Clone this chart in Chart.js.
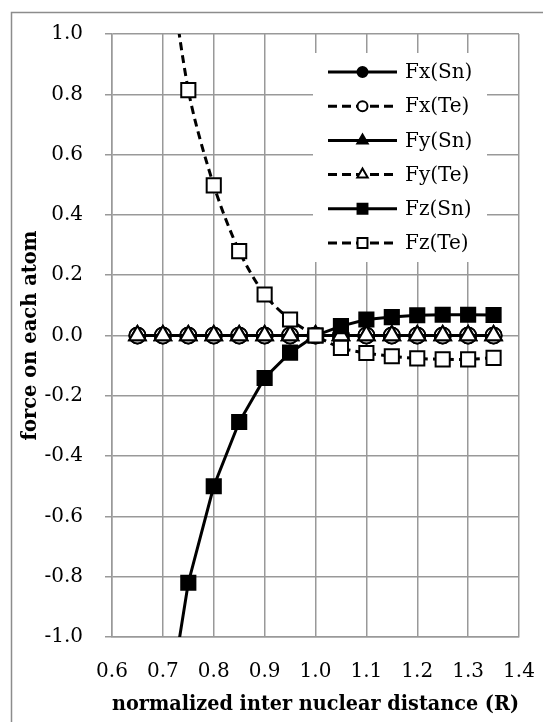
<!DOCTYPE html>
<html>
<head>
<meta charset="utf-8">
<script src="https://cdn.jsdelivr.net/npm/chart.js@4"></script>
<style>
  html, body { margin: 0; padding: 0; background: #fff; }
  #wrap { width: 543px; height: 722px; position: relative; }
</style>
</head>
<body>
<div id="wrap"><canvas id="chart"></canvas></div>
<script>
// distances (R)
const xAll = [0.65, 0.70, 0.75, 0.80, 0.85, 0.90, 0.95, 1.00, 1.05, 1.10, 1.15, 1.20, 1.25, 1.30, 1.35];
const fxSn = [0, 0, 0, 0, 0, 0, 0, 0, 0, 0, 0, 0, 0, 0, 0];
const fxTe = [0, 0, 0, 0, 0, 0, 0, 0, 0, 0, 0, 0, 0, 0, 0];
const fySn = [0, 0, 0, 0, 0, 0, 0, 0, 0, 0, 0, 0, 0, 0, 0];
const fyTe = [0, 0, 0, 0, 0, 0, 0, 0, 0, 0, 0, 0, 0, 0, 0];
// Fz only visible from 0.70 on
const xFz = [0.70, 0.75, 0.80, 0.85, 0.90, 0.95, 1.00, 1.05, 1.10, 1.15, 1.20, 1.25, 1.30, 1.35];
const fzSn = [-1.35, -0.82, -0.50, -0.287, -0.141, -0.057, 0.0, 0.031, 0.053, 0.061, 0.067, 0.069, 0.069, 0.068];
const fzTe = [1.40, 0.814, 0.498, 0.28, 0.136, 0.053, 0.0, -0.041, -0.058, -0.069, -0.076, -0.079, -0.079, -0.074];

const xTicks = [0.6, 0.7, 0.8, 0.9, 1.0, 1.1, 1.2, 1.3, 1.4];
const yTicks = [-1.0, -0.8, -0.6, -0.4, -0.2, 0.0, 0.2, 0.4, 0.6, 0.8, 1.0];

const FONT = "'DejaVu Serif', serif";
const GRID = "#999999";

function pts(xs, ys) {
  return xs.map((x, i) => ({ x: x, y: ys[i] }));
}

// solid = Sn, dashed = Te
function series(label, xs, ys, style, filled, dashed, order, tension) {
  return {
    label: label,
    data: pts(xs, ys),
    borderColor: "#000",
    borderWidth: 3,
    borderDash: dashed ? [8, 5] : [],
    pointStyle: style,
    pointRadius: style === "rect" ? 10 : (style === "triangle" ? 9.5 : 8),
    pointBorderWidth: 2,
    pointBackgroundColor: filled ? "#000" : "#fff",
    pointBorderColor: "#000",
    tension: tension || 0,
    order: order
  };
}

const datasets = [
  series("Fx(Sn)", xAll, fxSn, "circle", true, false, 6),
  series("Fx(Te)", xAll, fxTe, "circle", false, true, 5),
  series("Fy(Sn)", xAll, fySn, "triangle", true, false, 4),
  series("Fy(Te)", xAll, fyTe, "triangle", false, true, 3),
  series("Fz(Sn)", xFz, fzSn, "rect", true, false, 2),
  series("Fz(Te)", xFz, fzTe, "rect", false, true, 1, 0.3)
];

// outer frame (cut at right/bottom)
const framePlugin = {
  id: "frame",
  beforeDraw(chart) {
    const ctx = chart.ctx;
    ctx.save();
    ctx.fillStyle = "#fff";
    ctx.fillRect(0, 0, chart.width, chart.height);
    ctx.strokeStyle = "#8c8c8c";
    ctx.lineWidth = 1.5;
    ctx.beginPath();
    ctx.moveTo(11.5, chart.height);
    ctx.lineTo(11.5, 12.5);
    ctx.lineTo(chart.width, 12.5);
    ctx.stroke();
    ctx.restore();
  }
};

// legend: line - marker - line, like the original
const legendPlugin = {
  id: "lineLegend",
  afterDraw(chart) {
    const ctx = chart.ctx;
    ctx.save();
    ctx.fillStyle = "#fff";
    ctx.fillRect(313, 53, 174, 209);
    chart.data.datasets.forEach((ds, i) => {
      const y = 72 + i * 34.2;
      ctx.strokeStyle = "#000";
      ctx.lineWidth = 3;
      ctx.setLineDash(ds.borderDash.length ? [9, 5] : []);
      ctx.beginPath();
      ctx.moveTo(328, y);
      ctx.lineTo(397, y);
      ctx.stroke();
      ctx.setLineDash([]);
      ctx.fillStyle = ds.pointBackgroundColor;
      ctx.strokeStyle = "#000";
      ctx.lineWidth = 2;
      const r = ds.pointStyle === "rect" ? 7 : (ds.pointStyle === "triangle" ? 6 : 5);
      Chart.helpers.drawPoint(ctx, { pointStyle: ds.pointStyle, rotation: 0, radius: r, borderWidth: 2 }, 362.5, y);
      ctx.fillStyle = "#000";
      ctx.font = "20px " + FONT;
      ctx.textBaseline = "middle";
      ctx.textAlign = "left";
      ctx.fillText(ds.label, 405, y + 1);
    });
    ctx.restore();
  }
};

new Chart(document.getElementById("chart"), {
  type: "line",
  data: { datasets: datasets },
  plugins: [framePlugin, legendPlugin],
  options: {
    responsive: true,
    maintainAspectRatio: false,
    animation: false,
    layout: { padding: { left: 0, right: 24, top: 34, bottom: 0 } },
    plugins: {
      legend: { display: false },
      tooltip: { enabled: false }
    },
    scales: {
      x: {
        type: "linear",
        min: 0.6,
        max: 1.4,
        afterFit: s => {
          s.height = 85;
          s.paddingLeft = 0;
          s.paddingRight = 0;
        },
        afterBuildTicks: s => { s.ticks = xTicks.map(v => ({ value: v })); },
        ticks: {
          padding: 23,
          color: "#000",
          font: { family: FONT, size: 20 },
          callback: v => v.toFixed(1),
          maxRotation: 0
        },
        grid: { color: GRID, lineWidth: 1.5, drawTicks: false },
        border: { color: GRID, width: 1.5 },
        title: {
          display: true,
          text: "normalized inter nuclear distance (R)",
          color: "#000",
          font: { family: FONT, size: 20.5, weight: "bold" },
          padding: { top: 0, bottom: 5 }
        }
      },
      y: {
        min: -1,
        max: 1,
        afterFit: s => {
          s.width = 112;
          s.paddingTop = 0;
          s.paddingBottom = 0;
        },
        afterBuildTicks: s => { s.ticks = yTicks.map(v => ({ value: v })); },
        ticks: {
          padding: 22,
          color: "#000",
          font: { family: FONT, size: 20 },
          callback: v => v.toFixed(1)
        },
        grid: { color: GRID, lineWidth: 1.5, tickLength: 7 },
        border: { color: GRID, width: 1.5 },
        title: {
          display: true,
          text: "force on each atom",
          color: "#000",
          font: { family: FONT, size: 19.5, weight: "bold" },
          padding: { top: 19, bottom: 0 }
        }
      }
    }
  }
});
</script>
</body>
</html>
